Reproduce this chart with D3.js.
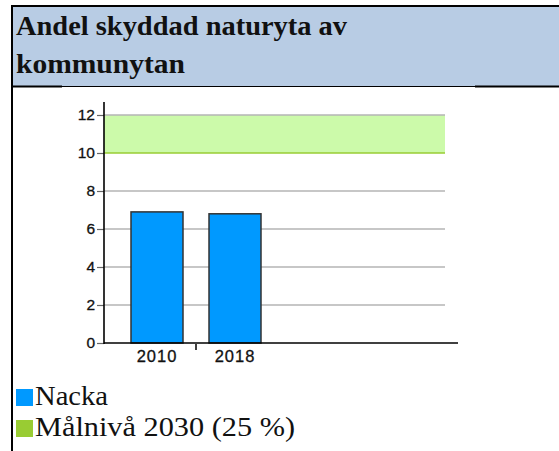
<!DOCTYPE html>
<html>
<head>
<meta charset="utf-8">
<script src="https://cdn.jsdelivr.net/npm/d3@7"></script>
<style>
  html, body { margin: 0; padding: 0; background: #fff; }
  svg { display: block; }
</style>
</head>
<body>
<svg id="chart" width="559" height="451"></svg>
<script>
// Chart data
const titleLines = ["Andel skyddad naturyta av", "kommunytan"];
const years = ["2010", "2018"];
const nackaValues = [6.9, 6.8];
const targetBand = [10, 12];          // Målnivå 2030 range on the axis
const yTicks = [0, 2, 4, 6, 8, 10, 12];
const legendLabels = ["Nacka", "Målnivå 2030 (25 %)"];
const legendColors = ["#0099ff", "#99cc33"];

// Text run widths for the serif header and legend lines
const titleWidths = [331, 169];
const legendWidths = [73, 260];

const svg = d3.select("#chart");

// Header block
svg.append("rect").attr("x", 12).attr("y", 6).attr("width", 547).attr("height", 80)
  .attr("fill", "#b8cce4");
svg.append("line").attr("x1", 11).attr("x2", 559).attr("y1", 6).attr("y2", 6)
  .attr("stroke", "#000").attr("stroke-width", 2);
svg.append("line").attr("x1", 12).attr("x2", 559).attr("y1", 86.5).attr("y2", 86.5)
  .attr("stroke", "#000").attr("stroke-width", 1);
[[12, 62], [475, 559]].forEach(([a, b]) => {
  svg.append("line").attr("x1", a).attr("x2", b).attr("y1", 86.5).attr("y2", 86.5)
    .attr("stroke", "#000").attr("stroke-width", 2);
});
svg.append("line").attr("x1", 12).attr("x2", 12).attr("y1", 5).attr("y2", 451)
  .attr("stroke", "#000").attr("stroke-width", 2);

svg.selectAll("text.title").data(titleLines).join("text")
  .attr("class", "title")
  .attr("x", 16)
  .attr("y", (d, i) => 35 + i * 37.5)
  .attr("font-family", "'Liberation Serif', 'DejaVu Serif', serif")
  .attr("font-weight", "bold")
  .attr("font-size", 28)
  .attr("fill", "#111")
  .attr("textLength", (d, i) => titleWidths[i])
  .attr("lengthAdjust", "spacingAndGlyphs")
  .text(d => d);

// Plot geometry
const plotLeft = 104, gridRight = 445, axisRight = 458;
const y = d3.scaleLinear().domain([0, 12]).range([343, 115]);
const x = d3.scaleBand().domain(years).range([118, 274])
  .paddingInner(1 / 3).paddingOuter(1 / 6);

const g = svg.append("g");

// Target band
g.append("rect")
  .attr("x", plotLeft).attr("width", gridRight - plotLeft)
  .attr("y", y(targetBand[1])).attr("height", y(targetBand[0]) - y(targetBand[1]))
  .attr("fill", "#ccfaaa");

// Gridlines
g.selectAll("line.grid").data(yTicks.filter(t => t > 0)).join("line")
  .attr("class", "grid")
  .attr("x1", plotLeft).attr("x2", gridRight)
  .attr("y1", d => y(d)).attr("y2", d => y(d))
  .attr("stroke", d => d === targetBand[0] ? "#99cc33" : "#b4b4b4")
  .attr("stroke-width", 1.5);

// Bars
g.selectAll("rect.bar").data(nackaValues).join("rect")
  .attr("class", "bar")
  .attr("x", (d, i) => x(years[i]))
  .attr("width", x.bandwidth())
  .attr("y", d => y(d))
  .attr("height", d => y(0) - y(d))
  .attr("fill", "#0099ff")
  .attr("stroke", "#333")
  .attr("stroke-width", 1.5);

// Y axis
const yAxis = d3.axisLeft(y).tickValues(yTicks).tickSize(7).tickPadding(2)
  .tickFormat(d3.format("d"));
const yg = svg.append("g").attr("transform", `translate(${plotLeft},0)`).call(yAxis);
yg.select(".domain").remove();
yg.selectAll(".tick line").attr("stroke", "#666").attr("stroke-width", 1.2);
yg.selectAll(".tick text")
  .attr("font-family", "'Liberation Sans', Arial, sans-serif")
  .attr("font-size", 15.5).attr("fill", "#111")
  .attr("stroke", "#111").attr("stroke-width", 0.3);
svg.append("line").attr("x1", plotLeft).attr("x2", plotLeft).attr("y1", 102).attr("y2", 344)
  .attr("stroke", "#000").attr("stroke-width", 1.6);

// X axis
svg.append("line").attr("x1", plotLeft).attr("x2", axisRight).attr("y1", 343).attr("y2", 343)
  .attr("stroke", "#000").attr("stroke-width", 1.6);
svg.selectAll("text.xlab").data(years).join("text")
  .attr("class", "xlab")
  .attr("x", d => x(d) + x.bandwidth() / 2)
  .attr("y", 362)
  .attr("text-anchor", "middle")
  .attr("font-family", "'Liberation Sans', Arial, sans-serif")
  .attr("font-size", 16.5)
  .attr("letter-spacing", 1)
  .attr("fill", "#111")
  .attr("stroke", "#111").attr("stroke-width", 0.3)
  .text(d => d);
// Separator tick between categories
const sepX = x(years[1]) - x.step() * x.paddingInner() / 2;
svg.append("line").attr("x1", sepX).attr("x2", sepX).attr("y1", 344).attr("y2", 350)
  .attr("stroke", "#000").attr("stroke-width", 1.5);

// Legend
const lg = svg.selectAll("g.legend").data(legendLabels).join("g")
  .attr("class", "legend")
  .attr("transform", (d, i) => `translate(16, ${389 + i * 31})`);
lg.append("rect").attr("width", 17).attr("height", 17).attr("fill", (d, i) => legendColors[i]);
lg.append("text")
  .attr("x", 19).attr("y", 16)
  .attr("font-family", "'Liberation Serif', 'DejaVu Serif', serif")
  .attr("font-size", 27)
  .attr("fill", "#111")
  .attr("textLength", (d, i) => legendWidths[i])
  .attr("lengthAdjust", "spacingAndGlyphs")
  .text(d => d);
</script>
</body>
</html>
